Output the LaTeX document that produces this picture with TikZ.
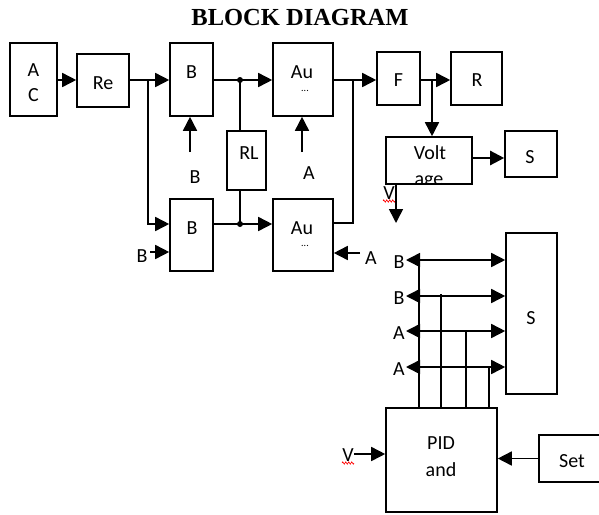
\documentclass[tikz,border=0pt]{standalone}
\usepackage{fontspec}
\setmainfont{Carlito}
\newfontfamily\titlefont{Liberation Serif}
\usetikzlibrary{arrows.meta,decorations.pathmorphing}
\begin{document}
\begin{tikzpicture}[x=1pt,y=-1pt,
  box/.style={draw,line width=1.6pt,inner sep=0pt},
  lbl/.style={inner sep=0pt,font=\fontsize{20}{23}\selectfont},
  dots/.style={inner sep=0pt,font=\fontsize{10}{11}\selectfont},
  con/.style={line width=1.6pt},
  arr/.style={con,-{Triangle[length=14pt,width=14pt]}},
  darr/.style={con,{Triangle[length=14pt,width=14pt]}-{Triangle[length=14pt,width=14pt]}},
  junction/.style={circle,fill,inner sep=0pt,minimum size=6pt},
  wavy/.style={red,line width=0.6pt,decorate,decoration={zigzag,amplitude=1.2pt,segment length=3pt}}]
\useasboundingbox (0,0) rectangle (599,514);
\clip (0,0) rectangle (599,514);
% title
\node[inner sep=0pt,font=\titlefont\bfseries\fontsize{24.5}{28}\selectfont] (title) at (300,18) {BLOCK DIAGRAM};
% boxes
\node[box,minimum width=47pt,minimum height=73pt] (ac) at (33.5,79.5) {};
\node[lbl] (acA) at (33.5,70) {A};
\node[lbl] (acC) at (33.5,95) {C};
\node[box,minimum width=52pt,minimum height=53pt] (re) at (103,80.5) {};
\node[lbl] (reT) at (103,83) {Re};
\node[box,minimum width=43pt,minimum height=73pt] (bt) at (191.5,79.5) {};
\node[lbl] (btT) at (191.5,72) {B};
\node[box,minimum width=60pt,minimum height=73pt] (aut) at (303,79.5) {};
\node[lbl] (autT) at (302,72) {Au};
\node[dots] (autD) at (305,91) {...};
\node[box,minimum width=39pt,minimum height=59pt] (rl) at (246.5,160.5) {};
\node[lbl] (rlT) at (249,153) {RL};
\node[box,minimum width=43pt,minimum height=72pt] (bb) at (191.5,235) {};
\node[lbl] (bbT) at (192,228) {B};
\node[box,minimum width=60pt,minimum height=72pt] (aub) at (303,235) {};
\node[lbl] (aubT) at (302,228) {Au};
\node[dots] (aubD) at (305,246) {...};
\node[box,minimum width=43pt,minimum height=53pt] (f) at (398.5,78.5) {};
\node[lbl] (fT) at (398.5,80) {F};
\node[box,minimum width=51pt,minimum height=53pt] (r) at (476.5,78.5) {};
\node[lbl] (rT) at (477,80) {R};
\begin{scope}
\clip (386,137) rectangle (472,184);
\node[lbl] (voltT) at (430,153) {Volt};
\node[lbl] (ageT) at (429,182) {age};
\end{scope}
\node[box,minimum width=86pt,minimum height=47pt] (volt) at (429,160.5) {};
\node[box,minimum width=52pt,minimum height=46pt] (s1) at (531,154) {};
\node[lbl] (s1T) at (530,157) {S};
\node[box,minimum width=51pt,minimum height=161pt] (s2) at (531.5,313.5) {};
\node[lbl] (s2T) at (531,318) {S};
\node[box,minimum width=111pt,minimum height=104pt] (pid) at (441.5,460) {};
\node[lbl] (pidT) at (441,443) {PID};
\node[lbl] (andT) at (441,470) {and};
\node[box,minimum width=80pt,minimum height=47pt,anchor=west] (set) at (538,458.5) {};
\node[lbl] (setT) at (572,461) {Set};
% coordinates
\coordinate (br1) at (148,80);
\coordinate (br1d) at (148,224);
\coordinate (j1) at (240,80);
\coordinate (j2) at (240,224);
\coordinate (btin) at (190,152);
\coordinate (autin) at (302,152);
\coordinate (bbin) at (150,252);
\coordinate (aubin) at (360,253);
\coordinate (mrg) at (353,80);
\coordinate (mrgd) at (353,223);
\coordinate (br2) at (432,80);
\coordinate (vtail) at (396,184);
\coordinate (vtip) at (396,223);
\coordinate (pidin) at (354,454);
\coordinate (y80) at (0,80);
\coordinate (y158) at (0,158);
% labels outside boxes
\node[lbl] (btL) at (195,177) {B};
\node[lbl] (autL) at (309,173) {A};
\node[lbl] (bbL) at (142,256) {B};
\node[lbl] (aubL) at (371,258) {A};
\node[lbl] (vL1) at (389,193) {V};
\node[lbl] (vL2) at (348,455) {V};
\draw[wavy] (383,201) -- (395,201);
\draw[wavy] (342,463) -- (354,463);
% connectors top
\draw[arr] (ac.east |- y80) -- (re.west |- y80);
\draw[arr] (re.east |- y80) -- (bt.west |- y80);
\draw[arr] (br1) -- (br1d) -- (bb.west |- br1d);
\draw[con] (bt.east |- j1) -- (j1);
\draw[arr] (j1) -- (aut.west |- j1);
\node[junction] (j1d) at (j1) {};
\draw[con] (j1) -- (j1 |- rl.north);
\draw[con] (j1 |- rl.south) -- (j2);
\draw[con] (bb.east |- j2) -- (j2);
\draw[arr] (j2) -- (aub.west |- j2);
\node[junction] (j2d) at (j2) {};
\draw[arr] (btin) -- (btin |- bt.south);
\draw[arr] (autin) -- (autin |- aut.south);
\draw[arr] (bbin) -- (bb.west |- bbin);
\draw[arr] (aubin) -- (aub.east |- aubin);
\draw[arr] (aut.east |- mrg) -- (f.west |- mrg);
\draw[con] (aub.east |- mrgd) -- (mrgd) -- (mrg);
\draw[arr] (f.east |- br2) -- (r.west |- br2);
\draw[arr] (br2) -- (br2 |- volt.north);
\draw[arr,line width=2.4pt] (volt.east |- y158) -- (s1.west |- y158);
\draw[arr] (vtail) -- (vtip);
% bus
\foreach \y/\t [count=\i] in {260/B,296/B,331/A,367/A}{
  \coordinate (bl\i) at (406,\y);
  \node[lbl] (bus\i) at (399,\y+2) {\t};
  \draw[darr] (bl\i) -- (s2.west |- bl\i);
}
\coordinate (v1) at (419,260);
\coordinate (v2) at (441,294);
\coordinate (v3) at (466,331);
\coordinate (v4) at (489,367);
\foreach \i in {1,...,4}{
  \draw[con] (v\i) -- (v\i |- pid.north);
}
\draw[arr] (pidin) -- (pid.west |- pidin);
\draw[arr] (set.west) -- (pid.east |- set.west);
\end{tikzpicture}
\end{document}
